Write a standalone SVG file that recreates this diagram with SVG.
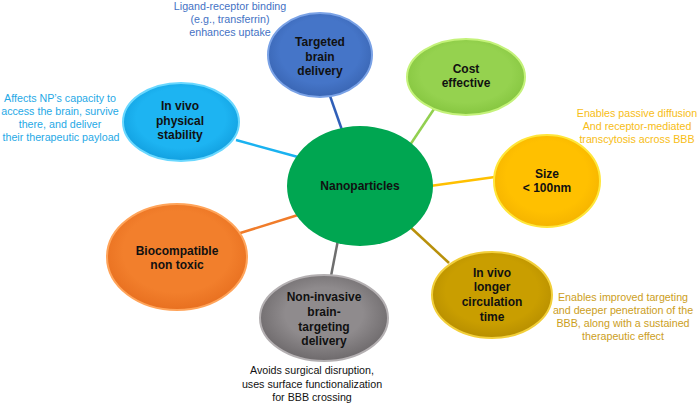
<svg xmlns="http://www.w3.org/2000/svg" width="700" height="403" viewBox="0 0 700 403">
<defs>
<radialGradient id="g-blue" cx="50%" cy="45%" r="55%"><stop offset="0.7" stop-color="#4575c8"/><stop offset="1" stop-color="#3a66b4"/></radialGradient>
<radialGradient id="g-cyan" cx="50%" cy="45%" r="55%"><stop offset="0.7" stop-color="#1db4f2"/><stop offset="1" stop-color="#12a0e0"/></radialGradient>
<radialGradient id="g-lgreen" cx="50%" cy="45%" r="55%"><stop offset="0.7" stop-color="#95d24f"/><stop offset="1" stop-color="#86c640"/></radialGradient>
<radialGradient id="g-amber" cx="50%" cy="45%" r="55%"><stop offset="0.7" stop-color="#ffc000"/><stop offset="1" stop-color="#f5b400"/></radialGradient>
<radialGradient id="g-gold" cx="50%" cy="45%" r="55%"><stop offset="0.7" stop-color="#c99e00"/><stop offset="1" stop-color="#b88f00"/></radialGradient>
<radialGradient id="g-grey" cx="50%" cy="45%" r="55%"><stop offset="0.55" stop-color="#8f8b8d"/><stop offset="1" stop-color="#6e6a6c"/></radialGradient>
<radialGradient id="g-orange" cx="50%" cy="45%" r="55%"><stop offset="0.7" stop-color="#f27f2c"/><stop offset="1" stop-color="#e87020"/></radialGradient>
</defs>
<style>
.lbl{font-family:"Liberation Sans",Arial,sans-serif;font-weight:bold;font-size:12px;fill:#111;text-anchor:middle}
.ann{font-family:"Liberation Sans",Arial,sans-serif;font-size:10.7px;text-anchor:middle}
.con line{stroke-width:2.5;fill:none}
</style>
<g id="connectors" class="con">
<line x1="330" y1="96" x2="342" y2="130" stroke="#2f5fb8"/>
<line x1="434" y1="109" x2="410" y2="145" stroke="#92d050"/>
<line x1="236" y1="140" x2="298" y2="157" stroke="#1ab2f0"/>
<line x1="430" y1="186" x2="495" y2="177" stroke="#ffc000"/>
<line x1="408" y1="225" x2="449" y2="263" stroke="#b8900a"/>
<line x1="338" y1="240" x2="331" y2="276" stroke="#6e6e6e"/>
<line x1="298" y1="215" x2="237" y2="234" stroke="#f07c2a"/>
</g>
<g id="n-center">
<ellipse cx="360" cy="186" rx="73" ry="60" fill="#00a651"/>
<text class="lbl" x="360" y="190" fill="#101830">Nanoparticles</text>
</g>
<g id="n-targeted">
<ellipse cx="320" cy="55" rx="52" ry="42" fill="url(#g-blue)" stroke="#7aa2e6" stroke-width="2"/>
<text class="lbl" x="320" y="46">Targeted</text>
<text class="lbl" x="320" y="61">brain</text>
<text class="lbl" x="320" y="75">delivery</text>
</g>
<g id="n-cost">
<ellipse cx="466" cy="77" rx="59" ry="38" fill="url(#g-lgreen)" stroke="#c4f27a" stroke-width="2"/>
<text class="lbl" x="466" y="73">Cost</text>
<text class="lbl" x="466" y="87">effective</text>
</g>
<g id="n-physical">
<ellipse cx="181" cy="122" rx="58" ry="39" fill="url(#g-cyan)" stroke="#6ad8ff" stroke-width="2"/>
<text class="lbl" x="180" y="110">In vivo</text>
<text class="lbl" x="180" y="125">physical</text>
<text class="lbl" x="180" y="139">stability</text>
</g>
<g id="n-size">
<ellipse cx="547" cy="181" rx="53" ry="46" fill="url(#g-amber)" stroke="#ffe63a" stroke-width="2"/>
<text class="lbl" x="547" y="178">Size</text>
<text class="lbl" x="547" y="192">&lt; 100nm</text>
</g>
<g id="n-circulation">
<ellipse cx="492" cy="295" rx="60" ry="43" fill="url(#g-gold)" stroke="#f2cf3a" stroke-width="2"/>
<text class="lbl" x="492" y="277">In vivo</text>
<text class="lbl" x="492" y="291">longer</text>
<text class="lbl" x="492" y="306">circulation</text>
<text class="lbl" x="492" y="321">time</text>
</g>
<g id="n-noninvasive">
<ellipse cx="324" cy="318" rx="64" ry="43" fill="url(#g-grey)" stroke="#b4b0b2" stroke-width="2"/>
<text class="lbl" x="324" y="301">Non-invasive</text>
<text class="lbl" x="324" y="316">brain-</text>
<text class="lbl" x="324" y="331">targeting</text>
<text class="lbl" x="324" y="345">delivery</text>
</g>
<g id="n-biocompatible">
<ellipse cx="177" cy="257" rx="70" ry="53" fill="url(#g-orange)" stroke="#ffa45a" stroke-width="2"/>
<text class="lbl" x="177" y="255">Biocompatible</text>
<text class="lbl" x="177" y="269">non toxic</text>
</g>
<g id="annotations">
<text class="ann" fill="#4472c4" font-size="11"><tspan x="230" y="10">Ligand-receptor binding</tspan><tspan x="230" y="23">(e.g., transferrin)</tspan><tspan x="230" y="36">enhances uptake</tspan></text>
<text class="ann" fill="#1fa9e6"><tspan x="60" y="102">Affects NP’s capacity to</tspan><tspan x="60" y="115">access  the brain, survive</tspan><tspan x="60" y="128">there, and deliver</tspan><tspan x="61" y="141">their therapeutic payload</tspan></text>
<text class="ann" fill="#f7bd16"><tspan x="637" y="117">Enables passive diffusion</tspan><tspan x="637" y="130">And receptor-mediated</tspan><tspan x="637" y="143">transcytosis across BBB</tspan></text>
<text class="ann" fill="#cc9e1c"><tspan x="623" y="301">Enables improved targeting</tspan><tspan x="623" y="314">and deeper penetration of the</tspan><tspan x="623" y="327">BBB, along with a sustained</tspan><tspan x="623" y="340">therapeutic effect</tspan></text>
<text class="ann" fill="#111"><tspan x="312" y="374">Avoids surgical disruption,</tspan><tspan x="312" y="388">uses surface functionalization</tspan><tspan x="312" y="401">for BBB crossing</tspan></text>
</g>
</svg>
